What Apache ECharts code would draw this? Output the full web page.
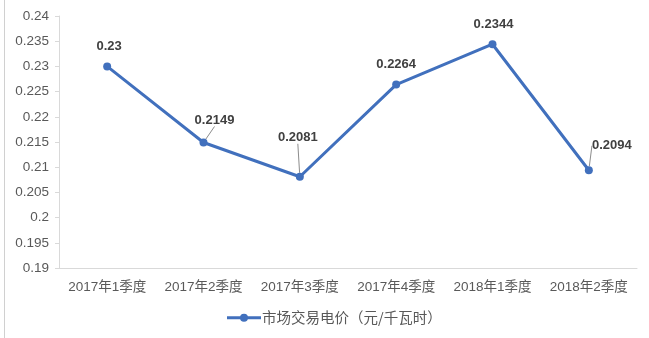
<!DOCTYPE html>
<html><head><meta charset="utf-8">
<script src="https://cdn.jsdelivr.net/npm/echarts@6/dist/echarts.min.js"></script>
<style>html,body{margin:0;padding:0;background:#fff}#c{width:649px;height:338px}</style>
</head><body><div id="c"></div>
<script>
const categories = ['2017年1季度','2017年2季度','2017年3季度','2017年4季度','2018年1季度','2018年2季度'];
const seriesName = '市场交易电价（元/千瓦时）';
const prices = [0.23, 0.2149, 0.2081, 0.2264, 0.2344, 0.2094];
const priceLabels = ['0.23','0.2149','0.2081','0.2264','0.2344','0.2094'];
const yTicks = {min: 0.19, max: 0.24, interval: 0.005};
// label offsets and leader-line visibility (style only)
const labelDx = [2, 11, -2, 0, 1, 23];
const labelDy = [-4, -7, -24, -5, -4, -9];
const showLeader = [false, true, true, false, false, true];

const chart = echarts.init(document.getElementById('c'), null, {renderer:'canvas'});
const txt = '#595959';
const font = '"Liberation Sans","Noto Sans CJK SC",sans-serif';
const seriesData = prices.map((v, i) => ({value: v, labelLine: {show: showLeader[i]}}));
chart.setOption({
  animation: false,
  backgroundColor: '#fff',
  textStyle: {fontFamily: font},
  graphic: [{type:'line', shape:{x1:4.5,y1:0,x2:4.5,y2:338}, style:{stroke:'#d0d0d0', lineWidth:1}}],
  grid: {left: 59, right: 12, top: 16, bottom: 70},
  xAxis: {
    type: 'category', data: categories, boundaryGap: true,
    axisLine: {lineStyle: {color: '#d9d9d9', width: 1}},
    axisTick: {show: false},
    axisLabel: {color: txt, fontSize: 13.5, margin: 13, interval: 0, fontFamily: font}
  },
  yAxis: {
    type: 'value', min: yTicks.min, max: yTicks.max, interval: yTicks.interval,
    axisLine: {show: true, lineStyle: {color: '#d9d9d9'}},
    axisTick: {show: true, length: 4, lineStyle: {color: '#d9d9d9'}},
    splitLine: {show: false},
    axisLabel: {color: txt, fontSize: 13.5, margin: 10, fontFamily: font,
      formatter: v => String(parseFloat(v.toFixed(4)))}
  },
  legend: {
    bottom: 8, left: 222, itemWidth: 34, itemHeight: 10, itemGap: 0,
    textStyle: {color: txt, fontSize: 14.5, fontFamily: '"Noto Sans CJK SC",sans-serif', padding:[0,0,0,-4]},
    data: [{name: seriesName, icon: 'path://M0,3.5 L34,3.5 L34,6.5 L0,6.5 Z M21,5 A4,4 0 1 1 13,5 A4,4 0 1 1 21,5 Z'}]
  },
  series: [{
    name: seriesName, type: 'line', data: seriesData,
    symbol: 'circle', symbolSize: 8,
    lineStyle: {color: '#4170BD', width: 3},
    itemStyle: {color: '#4170BD'},
    label: {show: true, position: 'top', distance: 5, color: '#404040', fontSize: 13, fontWeight: 'bold', fontFamily: font,
      formatter: p => priceLabels[p.dataIndex]},
    labelLine: {show: true, lineStyle: {color: '#8c8c8c', width: 1}},
    labelLayout: p => ({dx: labelDx[p.dataIndex], dy: labelDy[p.dataIndex]})
  }]
});
</script></body></html>
